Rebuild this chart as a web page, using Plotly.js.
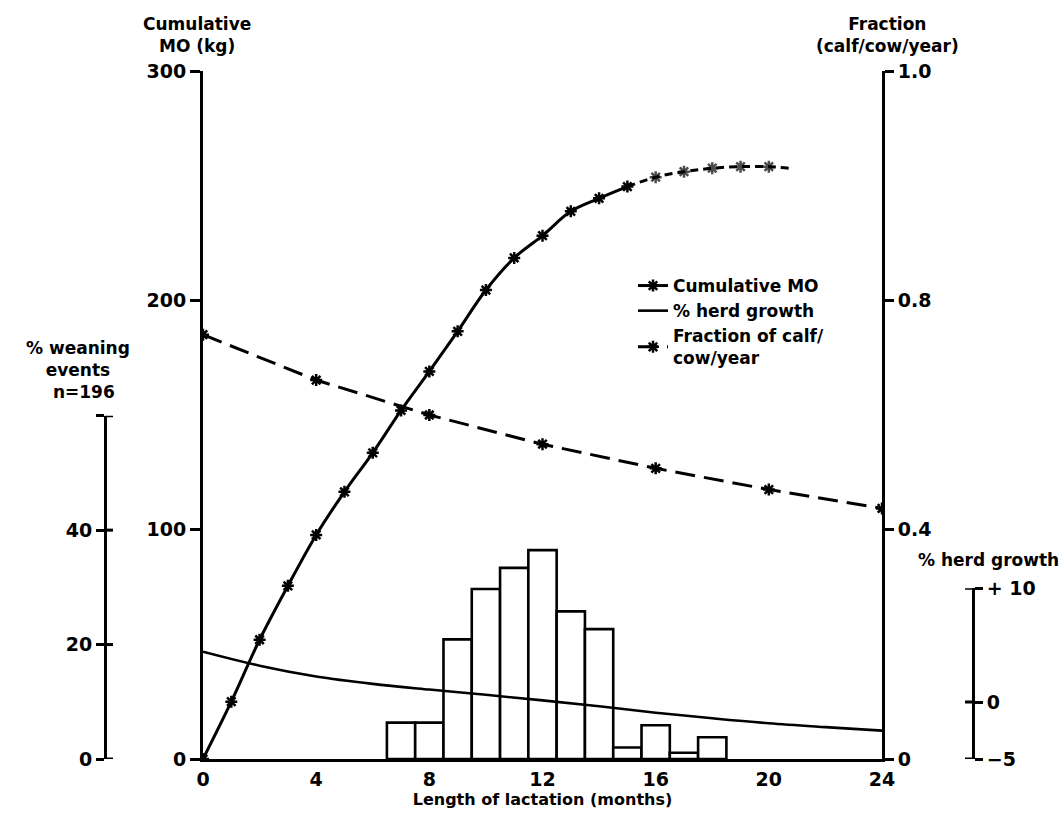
<!DOCTYPE html>
<html>
<head>
<meta charset="utf-8">
<script src="https://cdn.plot.ly/plotly-3.0.1.min.js"></script>
<style>
  html, body { margin: 0; padding: 0; background: #fff; }
  #chart { width: 1064px; height: 814px; }
</style>
</head>
<body>
<div id="chart"></div>
<script>
// Cumulative milk offtake (kg) by length of lactation (months)
const moMonths = [0, 1, 2, 3, 4, 5, 6, 7, 8, 9, 10, 11, 12, 13, 14, 15];
const moKg = [0, 25, 52, 75.5, 97.7, 116.5, 133.5, 152, 169, 186.5, 204.5, 218.5, 228.2, 238.8, 244.5, 249.6];
// later part of the curve, drawn broken
const moTailMonths = [15, 16, 17, 18, 19, 20, 20.7];
const moTailKg = [249.6, 253.7, 256.1, 257.6, 258.3, 258.3, 257.6];

// Fraction of calf / cow / year
const fracMonths = [0, 4, 8, 12, 16, 20, 24];
const fracValues = [0.740, 0.661, 0.600, 0.549, 0.507, 0.470, 0.437];

// % herd growth
const herdMonths = [0, 2, 4, 6, 8, 10, 12, 14, 16, 18, 20, 22, 24];
const herdGrowth = [4.43, 3.2, 2.25, 1.6, 1.1, 0.64, 0.15, -0.37, -0.93, -1.42, -1.86, -2.2, -2.51];

// % weaning events (n = 196) by month of weaning
const weanMonths = [7, 8, 9, 10, 11, 12, 13, 14, 15, 16, 17, 18];
const weanPct = [6.35, 6.35, 20.9, 29.7, 33.4, 36.5, 25.8, 22.7, 2.0, 5.9, 1.1, 3.8];

// axis ticks
const xTicks = [0, 4, 8, 12, 16, 20, 24];
const kgTicks = [0, 100, 200, 300];
const fracTickVals = [0, 0.4, 0.8, 1.2];
const fracTickText = ['0', '0.4', '0.8', '1.0'];
const weanTickVals = [0, 20, 40, 60];
const weanTickText = ['0', '20', '40', ''];
const herdTickVals = [-5, 0, 10];
const herdTickText = ['\u22125', '0', '+ 10'];

const FONT = 'DejaVu Sans, sans-serif';
const INK = '#000';

const star = { symbol: 'asterisk-open', size: 10, color: INK, line: { color: INK, width: 2.5 } };

const traces = [
  {
    type: 'bar', x: weanMonths, y: weanPct, xaxis: 'x', yaxis: 'y3', width: 1,
    marker: { color: '#fff', line: { color: INK, width: 2.6 } },
    showlegend: false, hoverinfo: 'x+y'
  },
  {
    type: 'scatter', mode: 'lines', x: herdMonths, y: herdGrowth, xaxis: 'x', yaxis: 'y4',
    name: '% herd growth', legendrank: 2, line: { color: INK, width: 2.6, shape: 'spline' }
  },
  {
    type: 'scatter', mode: 'lines+markers', x: moMonths, y: moKg, xaxis: 'x', yaxis: 'y',
    name: 'Cumulative MO', legendrank: 1, line: { color: INK, width: 3, shape: 'spline' }, marker: star
  },
  {
    type: 'scatter', mode: 'lines+markers', x: moTailMonths, y: moTailKg, xaxis: 'x', yaxis: 'y',
    showlegend: false, line: { color: INK, width: 3, dash: '8px,5px', shape: 'spline' },
    marker: Object.assign({}, star, { size: moTailMonths.map((m, i) => (i === 0 || i === moTailMonths.length - 1) ? 0 : 10) })
  },
  {
    type: 'scatter', mode: 'lines+markers', x: fracMonths, y: fracValues, xaxis: 'x', yaxis: 'y2',
    name: 'Fraction of calf/<br>cow/year', legendrank: 3, line: { color: INK, width: 3, dash: '20px,9px' }, marker: star
  }
];

// paper geometry
const W = 1064, H = 814, ML = 40, MR = 40, MT = 71, MB = 55;
const PW = W - ML - MR;
const px = v => (v - ML) / PW;          // page x pixel -> paper fraction
const PH = H - MT - MB;
const py = v => (H - MB - v) / PH;      // page y pixel -> paper fraction

const weanPos = px(105);
const herdPos = px(973);
const halfTick = 8 / PW;

const tickFont = { family: FONT, size: 19, color: INK };
const labelFont = { family: FONT, size: 17, color: INK, weight: 'bold' };

const shapes = [];
// ticks crossing the two short side scales
weanTickVals.forEach(v => shapes.push({
  type: 'line', xref: 'paper', yref: 'y3', x0: weanPos, x1: weanPos + halfTick, y0: v, y1: v,
  line: { color: INK, width: 3 }
}));
herdTickVals.forEach(v => shapes.push({
  type: 'line', xref: 'paper', yref: 'y4', x0: herdPos - halfTick, x1: herdPos, y0: v, y1: v,
  line: { color: INK, width: 3 }
}));

const layout = {
  width: W, height: H,
  margin: { l: ML, r: MR, t: MT, b: MB },
  paper_bgcolor: '#fff', plot_bgcolor: 'rgba(0,0,0,0)',
  font: { family: FONT, color: INK, weight: 'bold' },
  showlegend: true,
  legend: {
    x: px(633), y: py(268), xanchor: 'left', yanchor: 'top',
    bgcolor: 'rgba(0,0,0,0)', font: { family: FONT, size: 17, color: INK, weight: 'bold' },
    traceorder: 'normal', itemwidth: 30, tracegroupgap: 0
  },
  xaxis: {
    domain: [px(203), px(882)], range: [0, 24], anchor: 'y',
    tickvals: xTicks, ticktext: xTicks.map(String), tickfont: tickFont,
    ticks: 'outside', ticklen: 1, tickcolor: 'rgba(0,0,0,0)',
    showline: true, linecolor: INK, linewidth: 3, showgrid: false, zeroline: false,
    title: { text: 'Length of lactation (months)', font: { family: FONT, size: 16, color: INK, weight: 'bold' }, standoff: 3 }
  },
  yaxis: {
    range: [0, 300], anchor: 'x', side: 'left',
    tickvals: kgTicks, ticktext: kgTicks.map(String), tickfont: tickFont,
    ticks: 'outside', ticklen: 10, tickwidth: 3, tickcolor: INK,
    showline: true, linecolor: INK, linewidth: 3, showgrid: false, zeroline: false
  },
  yaxis2: {
    range: [0, 1.2], overlaying: 'y', anchor: 'x', side: 'right',
    tickvals: fracTickVals, ticktext: fracTickText, tickfont: tickFont,
    ticks: 'outside', ticklen: 9, tickwidth: 3, tickcolor: INK,
    showline: true, linecolor: INK, linewidth: 3, showgrid: false, zeroline: false
  },
  yaxis3: {
    domain: [0, py(415.7)], range: [0, 60], anchor: 'free', position: weanPos, side: 'left',
    tickvals: weanTickVals, ticktext: weanTickText, tickfont: tickFont,
    ticks: 'outside', ticklen: 8, tickwidth: 3, tickcolor: INK,
    showline: true, linecolor: INK, linewidth: 3, showgrid: false, zeroline: false
  },
  yaxis4: {
    domain: [0, py(588.3)], range: [-5, 10], anchor: 'free', position: herdPos, side: 'right',
    tickvals: herdTickVals, ticktext: herdTickText, tickfont: tickFont,
    ticks: 'outside', ticklen: 8, tickwidth: 3, tickcolor: INK,
    showline: true, linecolor: INK, linewidth: 3, showgrid: false, zeroline: false
  },
  shapes: shapes,
  annotations: [
    { xref: 'paper', yref: 'paper', x: px(197), y: py(12), xanchor: 'center', yanchor: 'top',
      text: 'Cumulative<br>MO (kg)', showarrow: false, font: labelFont, align: 'center' },
    { xref: 'paper', yref: 'paper', x: px(887), y: py(12), xanchor: 'center', yanchor: 'top',
      text: 'Fraction<br>(calf/cow/year)', showarrow: false, font: labelFont, align: 'center' },
    { xref: 'paper', yref: 'paper', x: px(78), y: py(336), xanchor: 'center', yanchor: 'top',
      text: '% weaning<br>events<br>  n=196', showarrow: false, font: labelFont, align: 'center' },
    { xref: 'paper', yref: 'paper', x: px(988), y: py(560), xanchor: 'center', yanchor: 'middle',
      text: '% herd growth', showarrow: false, font: labelFont, align: 'center' }
  ]
};

Plotly.newPlot('chart', traces, layout, { displayModeBar: false, staticPlot: true });
</script>
</body>
</html>
